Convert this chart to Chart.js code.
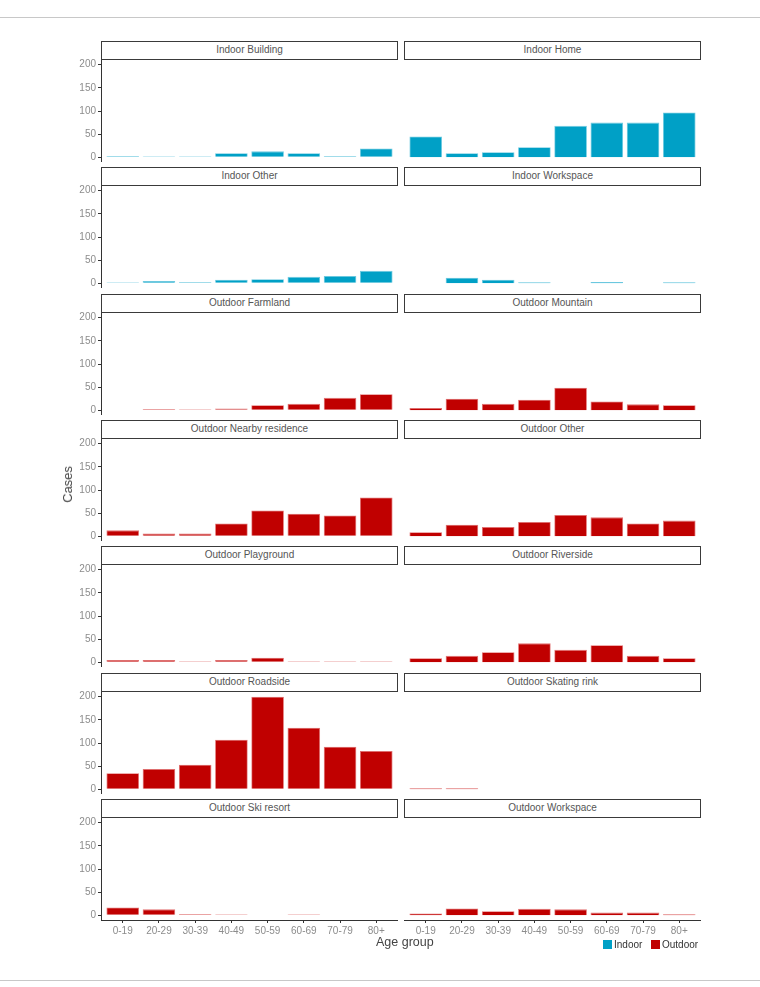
<!DOCTYPE html>
<html><head><meta charset="utf-8">
<script src="https://cdn.jsdelivr.net/npm/chart.js@4/dist/chart.umd.min.js"></script>
<style>
body{margin:0;background:#fff;}
#wrap{position:relative;width:760px;height:987px;overflow:hidden;font-family:"Liberation Sans",Arial,sans-serif;background:#fff;}
.hline{position:absolute;left:0;width:760px;height:1px;background:#c8c8c8;}
.strip{position:absolute;height:19px;border:1.5px solid #3a3a3a;box-sizing:border-box;background:#fff;color:#555;font-size:10px;line-height:16px;text-align:center;}
canvas{position:absolute;}
.lab{position:absolute;color:#333;white-space:nowrap;}
.sw{position:absolute;width:9px;height:9px;}
</style></head>
<body><div id="wrap">
<div class="hline" style="top:17px"></div>
<div class="hline" style="top:980px"></div>
</div>
<script>
// ---- data ----
const ageGroups = ["0-19","20-29","30-39","40-49","50-59","60-69","70-79","80+"];
const yTicks = [0,50,100,150,200];
const facetNames = ["Indoor Building","Indoor Home","Indoor Other","Indoor Workspace",
  "Outdoor Farmland","Outdoor Mountain","Outdoor Nearby residence","Outdoor Other",
  "Outdoor Playground","Outdoor Riverside","Outdoor Roadside","Outdoor Skating rink",
  "Outdoor Ski resort","Outdoor Workspace"];
const facetTypes = ["Indoor","Indoor","Indoor","Indoor","Outdoor","Outdoor","Outdoor","Outdoor",
  "Outdoor","Outdoor","Outdoor","Outdoor","Outdoor","Outdoor"];
const indoorBuilding   = [3, 1, 1, 9, 13, 9, 3, 19];
const indoorHome       = [45, 9, 11, 22, 68, 75, 75, 97];
const indoorOther      = [1, 5, 3, 8, 9, 14, 16, 27];
const indoorWorkspace  = [0, 12, 8, 2, 0, 3, 0, 2];
const outdoorFarmland  = [0, 3, 1, 4, 11, 14, 27, 35];
const outdoorMountain  = [5, 25, 14, 23, 49, 19, 13, 11];
const outdoorNearby    = [13, 6, 6, 28, 56, 49, 45, 84];
const outdoorOther     = [9, 25, 20, 31, 46, 41, 28, 34];
const outdoorPlayground= [5, 5, 1, 5, 10, 2, 1, 1];
const outdoorRiverside = [9, 14, 22, 41, 27, 37, 14, 9];
const outdoorRoadside  = [35, 44, 53, 107, 200, 133, 92, 83];
const outdoorSkating   = [1, 2, 0, 0, 0, 0, 0, 0];
const outdoorSki       = [17, 13, 3, 2, 0, 1, 0, 0];
const outdoorWorkspace = [4, 15, 9, 14, 13, 6, 6, 2];
const facetValues = [indoorBuilding, indoorHome, indoorOther, indoorWorkspace,
  outdoorFarmland, outdoorMountain, outdoorNearby, outdoorOther,
  outdoorPlayground, outdoorRiverside, outdoorRoadside, outdoorSkating,
  outdoorSki, outdoorWorkspace];
const legendLabels = ["Indoor","Outdoor"];

// ---- styles ----
const fill = {Indoor:"#00A0C6", Outdoor:"#C00000"};
const edge = {Indoor:"#6cc9e0", Outdoor:"#e27070"};
const tickFont = {family:'"Liberation Sans",Arial,sans-serif', size:10};
const tickColor = "#8c8c8c";

const wrap = document.getElementById('wrap');
const colLeft = [101, 404], panelW = 297;
const yAxisW = 60, xAxisH = 18, plotH = 102, topPad = 7;
const nRows = 7;

function zeroPad(s){ s.paddingTop = 0; s.paddingBottom = 0; s.paddingLeft = 0; s.paddingRight = 0; }

facetNames.forEach((name, k) => {
  const row = Math.floor(k/2), col = k % 2;
  const T = Math.round(41 + row*126.33);
  const isLeft = col === 0, isBottom = row === nRows-1;
  const strip = document.createElement('div');
  strip.className = 'strip';
  strip.style.left = colLeft[col] + 'px';
  strip.style.top = T + 'px';
  strip.style.width = panelW + 'px';
  strip.textContent = name;
  wrap.appendChild(strip);

  const cv = document.createElement('canvas');
  const cLeft = colLeft[col] - (isLeft ? yAxisW : 0);
  const cW = panelW + (isLeft ? yAxisW : 0);
  const cH = topPad + plotH + (isBottom ? xAxisH : 0);
  cv.width = cW; cv.height = cH;
  cv.style.left = cLeft + 'px'; cv.style.top = (T + 19 - topPad) + 'px';
  cv.style.width = cW + 'px'; cv.style.height = cH + 'px';
  wrap.appendChild(cv);

  const type = facetTypes[k];
  new Chart(cv.getContext('2d'), {
    type: 'bar',
    data: { datasets: [{
      data: facetValues[k].map((v,i) => ({x: i+1, y: v === 0 ? null : v})),
      backgroundColor: fill[type], borderColor: edge[type], borderWidth: 0.8,
      barPercentage: 0.9, categoryPercentage: 1.0, minBarLength: 1.2
    }]},
    options: {
      responsive: false, animation: false, maintainAspectRatio: false,
      layout: {padding: {top: topPad, left: 0, right: 0, bottom: 0}},
      plugins: {legend: {display: false}, tooltip: {enabled: false}},
      scales: {
        x: {
          type: 'linear', min: 0.4, max: 8.6, offset: false, display: isBottom,
          afterBuildTicks: s => { s.ticks = ageGroups.map((_, i) => ({value: i+1})); },
          afterFit: s => { s.height = isBottom ? xAxisH : 0; zeroPad(s); },
          ticks: {callback: v => ageGroups[v-1], autoSkip: false, maxRotation: 0, font: tickFont, color: tickColor, padding: 2},
          grid: {offset: false, drawOnChartArea: false, tickLength: 3, color: '#333'},
          border: {display: true, color: '#333', width: 1}
        },
        y: {
          min: -10, max: 210, display: isLeft,
          afterBuildTicks: s => { s.ticks = yTicks.map(v => ({value: v})); },
          afterFit: s => { s.width = isLeft ? yAxisW : 0; zeroPad(s); },
          ticks: {font: tickFont, color: tickColor, padding: 2},
          grid: {drawOnChartArea: false, tickLength: 3, color: '#333'},
          border: {display: true, color: '#333', width: 1}
        }
      }
    }
  });
});

// axis titles
const yt = document.createElement('div');
yt.className = 'lab';
yt.textContent = 'Cases';
yt.style.cssText += 'left:61px;top:466px;font-size:13px;line-height:14px;color:#444;writing-mode:vertical-rl;transform:rotate(180deg);';
wrap.appendChild(yt);
const xt = document.createElement('div');
xt.className = 'lab';
xt.textContent = 'Age group';
xt.style.cssText += 'left:376px;top:935px;font-size:12.5px;line-height:15px;color:#444;';
wrap.appendChild(xt);

// legend
const legX = [603, 651];
legendLabels.forEach((l, i) => {
  const sw = document.createElement('div');
  sw.className = 'sw';
  sw.style.left = legX[i] + 'px'; sw.style.top = '940px';
  sw.style.background = fill[l];
  wrap.appendChild(sw);
  const t = document.createElement('div');
  t.className = 'lab';
  t.textContent = l;
  t.style.cssText += 'left:' + (legX[i] + 11) + 'px;top:938px;font-size:10px;line-height:13px;color:#333;';
  wrap.appendChild(t);
});
</script>
</body></html>
